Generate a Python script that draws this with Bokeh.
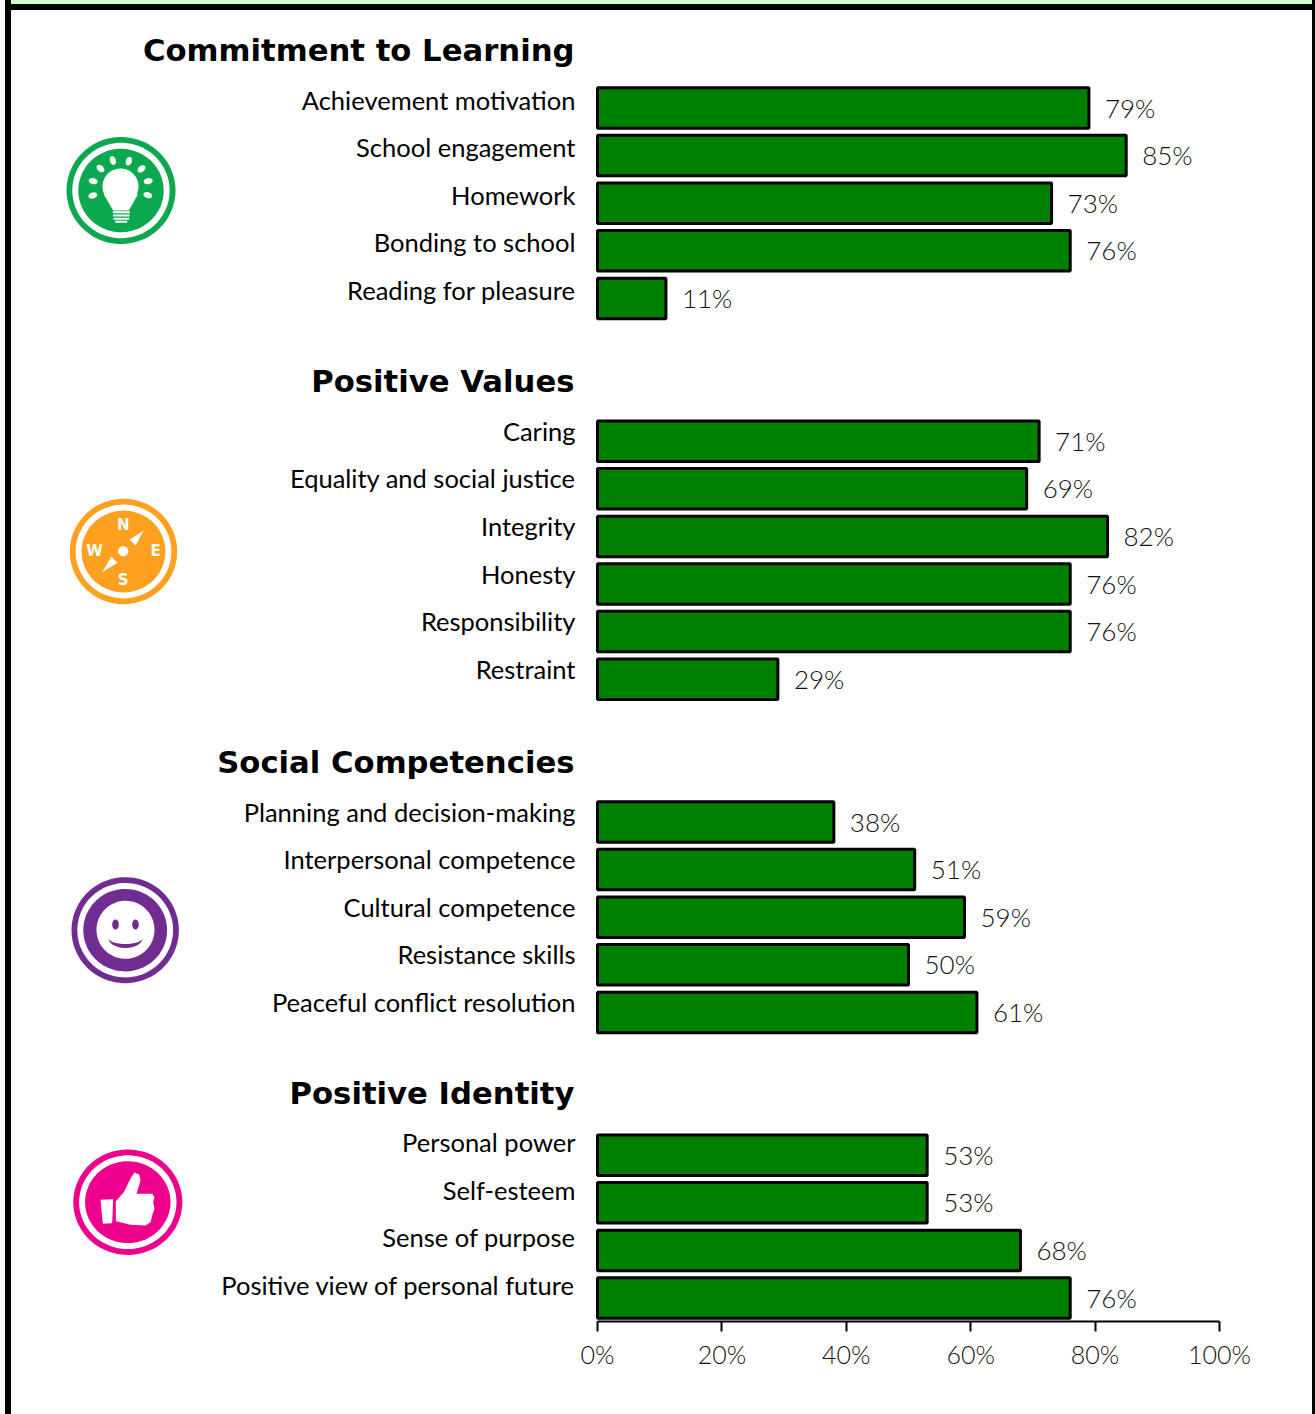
import numpy as np
from bokeh.plotting import figure
from bokeh.models import ColumnDataSource, Range1d, FixedTicker, PrintfTickFormatter
from bokeh.core.properties import value
from bokeh.embed import file_html
from bokeh.resources import INLINE

groups = ["Commitment to Learning", "Positive Values", "Social Competencies", "Positive Identity"]
learning_labels = ["Achievement motivation", "School engagement", "Homework", "Bonding to school", "Reading for pleasure"]
learning_values = [79, 85, 73, 76, 11]
values_labels = ["Caring", "Equality and social justice", "Integrity", "Honesty", "Responsibility", "Restraint"]
values_values = [71, 69, 82, 76, 76, 29]
social_labels = ["Planning and decision-making", "Interpersonal competence", "Cultural competence", "Resistance skills", "Peaceful conflict resolution"]
social_values = [38, 51, 59, 50, 61]
identity_labels = ["Personal power", "Self-esteem", "Sense of purpose", "Positive view of personal future"]
identity_values = [53, 53, 68, 76]
x_ticks = [0, 20, 40, 60, 80, 100]

X0, PX_PER_PCT = 597.0, 6.22
Y0, PX_PER_ROW = 107.5, 47.6
W, H, AXIS_Y = 1315, 1414, 1321
LABEL_SHIFT = [-8.5, -10.5, -10.5, -13]
TITLE_SHIFT = [-10, -12, -12, -14]


def dx(px):
    return (np.asarray(px, dtype=float) - X0) / PX_PER_PCT


def dy(py):
    return (np.asarray(py, dtype=float) - Y0) / PX_PER_ROW


rows, labels, vals, shifts, title_rows = [], [], [], [], []
r = 0
for g, (ls, vs) in enumerate([(learning_labels, learning_values), (values_labels, values_values),
                              (social_labels, social_values), (identity_labels, identity_values)]):
    title_rows.append(r - 1)
    for l, v in zip(ls, vs):
        rows.append(r)
        labels.append(l)
        vals.append(v)
        shifts.append(LABEL_SHIFT[g])
        r += 1
    r += 2

source = ColumnDataSource(dict(row=rows, label=labels, val=vals, pct=[f"{v}%" for v in vals], shift=shifts))
title_source = ColumnDataSource(dict(row=title_rows, name=groups, shift=TITLE_SHIFT))

FRAME_CSS = """
:host::before { content: ""; position: absolute; box-sizing: border-box; left: 5px; right: 0; top: 4px; bottom: 0;
  border-top: 6px solid black; border-left: 6px solid black; border-right: 3px solid black;
  z-index: 20; pointer-events: none; }
:host::after { content: ""; position: absolute; left: 5px; right: 0; top: 0; height: 4px; box-sizing: border-box;
  background: #CCFFCC; border-left: 6px solid black; border-right: 3px solid black; z-index: 20; pointer-events: none; }
"""

p = figure(frame_width=W, frame_height=AXIS_Y, width=W, height=H, output_backend="svg", toolbar_location=None,
           x_range=Range1d(float(dx(0)), float(dx(W))), y_range=Range1d(float(dy(AXIS_Y)), float(dy(0))),
           y_axis_location=None, min_border=0, min_border_bottom=H - AXIS_Y,
           outline_line_color=None, background_fill_color="white", border_fill_color="white",
           margin=(0, 0, 0, 0), stylesheets=[FRAME_CSS])
p.grid.visible = False

ax = p.xaxis[0]
ax.bounds = (0, 100)
ax.ticker = FixedTicker(ticks=x_ticks)
ax.formatter = PrintfTickFormatter(format="%d%%")
ax.minor_tick_line_color = None
ax.major_tick_in = 0
ax.major_tick_out = 10
ax.major_tick_line_width = 2
ax.major_tick_line_color = "black"
ax.axis_line_width = 2
ax.axis_line_color = "black"
ax.major_label_text_font = "Lato Light, Lato"
ax.major_label_text_font_size = "25px"
ax.major_label_text_color = "#111111"
ax.major_label_standoff = 7

p.hbar(y="row", left=0, right="val", height=0.85, source=source,
       fill_color="#008000", line_color="black", line_width=3)

p.text(x=0, y="row", text="label", source=source, text_align="right", text_baseline="middle",
       x_offset=-22, y_offset="shift", text_font=value("Lato"), text_font_size="25.5px", text_color="black")
p.text(x="val", y="row", text="pct", source=source, text_align="left", text_baseline="middle",
       x_offset=16, y_offset=-0.5, text_font=value("Lato Light, Lato"), text_font_size="26px", text_color="#111111")
p.text(x=0, y="row", text="name", source=title_source, text_align="right", text_baseline="middle",
       x_offset=-23, y_offset="shift", text_font=value("DejaVu Sans"), text_font_style="bold",
       text_font_size="30.7px", text_color="black")


def poly(pts, color):
    pts = np.asarray(pts, dtype=float)
    p.patch(dx(pts[:, 0]), dy(pts[:, 1]), fill_color=color, line_color=None)


def ell(cx, cy, rx, ry, color, angle=0.0):
    t = np.linspace(0, 2 * np.pi, 90)
    a = np.radians(angle)
    x = rx * np.cos(t)
    y = ry * np.sin(t)
    poly(np.column_stack([cx + x * np.cos(a) - y * np.sin(a), cy + x * np.sin(a) + y * np.cos(a)]), color)


def badge(cx, cy, rx, ry, color):
    ell(cx, cy, rx, ry, color)
    ell(cx, cy, rx - 5.8, ry - 5.8, "white")
    ell(cx, cy, rx - 11.8, ry - 11.8, color)


def z(ox, oy, pts):
    return [(ox + a / 3, oy + b / 3) for a, b in pts]


# lightbulb
GREEN = "#0BA84F"
badge(120.5, 190, 54.5, 53.5, GREEN)
for a, b in [(158, 182), (180, 144), (217, 120), (265, 122), (303, 145), (323, 182), (322, 224), (157, 225)]:
    c = np.array(z(40, 120, [(a, b)])[0])
    ang = np.degrees(np.arctan2(c[1] - 186, c[0] - 120))
    ell(c[0], c[1], 4.5, 3, "white", ang)
ell(120, 186, 18, 18, "white")
poly(z(40, 120, [(190, 222), (292, 222), (265, 270), (218, 270)]), "white")
for yy, a, b in [(275, 217, 268), (285, 218, 267), (295, 219, 266), (304, 224, 260)]:
    poly(z(40, 120, [(a, yy - 3), (b, yy - 3), (b, yy + 3), (a, yy + 3)]), "white")

# compass
ORANGE = "#FFA020"
badge(123, 551, 53.7, 52.7, ORANGE)
ell(122.7, 550.7, 5, 5, "white")
poly(z(40, 480, [(310, 150), (285, 195), (267, 178)]), "white")
poly(z(40, 480, [(185, 275), (231, 247), (213, 229)]), "white")
comp_letters = ["N", "S", "W", "E"]
p.text(x=dx([122.7, 122.7, 94, 155]), y=dy([524.3, 579, 550.7, 550.7]), text=comp_letters,
       text_align="center", text_baseline="middle", text_font=value("DejaVu Sans"), text_font_style="bold",
       text_font_size="15px", text_color="white")

# smiley
PURPLE = "#702C91"
badge(124.7, 929.7, 53.7, 53, PURPLE)
ell(125, 929.3, 29, 29, "white")
ell(115, 924, 3.3, 5, PURPLE)
ell(135, 924, 3.3, 5, PURPLE)
t = np.linspace(0, np.pi, 30)
low = np.column_stack([125 - 17 * np.cos(t), 937.5 + 10 * np.sin(t)])
up = np.column_stack([125 + 17 * np.cos(t), 937.5 + 6 * np.sin(t)])
poly(np.vstack([low, up]), PURPLE)

# thumb
PINK = "#EC008C"
badge(127.3, 1201.7, 54.5, 52.7, PINK)
poly(z(40, 1130, [(180, 208), (218, 206), (215, 278), (187, 280)]), "white")
poly(z(40, 1130, [(226, 212), (250, 185), (272, 140), (282, 126), (296, 132), (300, 150), (288, 190), (335, 190),
                  (342, 200), (338, 215), (342, 235), (335, 255), (330, 275), (315, 285), (270, 283), (226, 272)]),
     "white")

open("out.html", "w").write(file_html(p, INLINE))
